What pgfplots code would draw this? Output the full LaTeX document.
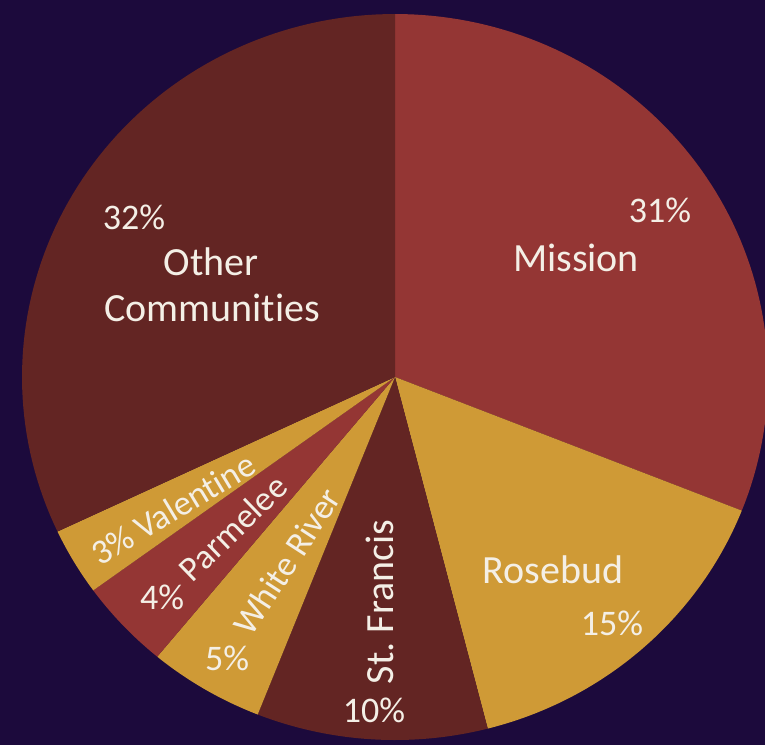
\documentclass[border=0pt]{standalone}
\usepackage{fontspec}
\setmainfont{Carlito}[Ligatures=NoCommon]
\usepackage{pgfplots}
\pgfplotsset{compat=1.18}
\frenchspacing

\definecolor{bg}{HTML}{1C0A3C}
\definecolor{cred}{HTML}{943634}
\definecolor{cgold}{HTML}{CF9A36}
\definecolor{cdark}{HTML}{632523}
\definecolor{ctext}{HTML}{F4EFE6}

\tikzset{
  lbl/.style={text=ctext,font=\fontsize{40}{44}\selectfont,inner sep=0pt},
  pct/.style={text=ctext,font=\fontsize{36}{40}\selectfont,inner sep=0pt},
  sml/.style={text=ctext,font=\fontsize{35}{40}\selectfont,inner sep=0pt},
}

% shares in percent, clockwise from the top:
% Mission 31, Rosebud 15, St. Francis 10, White River 5,
% Parmelee 4, Valentine 3, Other Communities 32
% wedge angles = 90 - 3.6*cumulative share
\newcommand{\slice}[3]{%
  \addplot[draw=none,fill=#1,domain=#2:#3,samples=80]
    ({395+373*cos(x)},{377-363*sin(x)}) -- (axis cs:395,377) -- cycle;}

\begin{document}
\begin{tikzpicture}
\begin{axis}[
  width=765pt,height=745pt,scale only axis,
  xmin=0,xmax=765,ymin=0,ymax=745,y dir=reverse,
  axis lines=none,ticks=none,
  axis background/.style={fill=bg},
]
\slice{cred}{-21.6}{90}
\slice{cgold}{-75.6}{-21.6}
\slice{cdark}{-111.6}{-75.6}
\slice{cgold}{-129.6}{-111.6}
\slice{cred}{-144}{-129.6}
\slice{cgold}{-154.8}{-144}
\slice{cdark}{90}{205.2}

\node[pct] at (axis cs:134,217) {32\%};
\node[lbl] at (axis cs:211,262) {Other};
\node[lbl] at (axis cs:212,308) {Communities};
\node[pct] at (axis cs:660,210) {31\%};
\node[lbl] at (axis cs:576,258) {Mission};
\node[lbl] at (axis cs:553,570) {Rosebud};
\node[pct] at (axis cs:612,623) {15\%};
\node[lbl,rotate=90] at (axis cs:380,602) {St. Francis};
\node[pct] at (axis cs:374,710) {10\%};
\node[sml,rotate=57] at (axis cs:287,561) {White River};
\node[pct] at (axis cs:227,658) {5\%};
\node[sml,rotate=44] at (axis cs:233,528) {Parmelee};
\node[pct] at (axis cs:162,597) {4\%};
\node[sml,rotate=31] at (axis cs:173,509) {3\% Valentine};
\end{axis}
\end{tikzpicture}
\end{document}
